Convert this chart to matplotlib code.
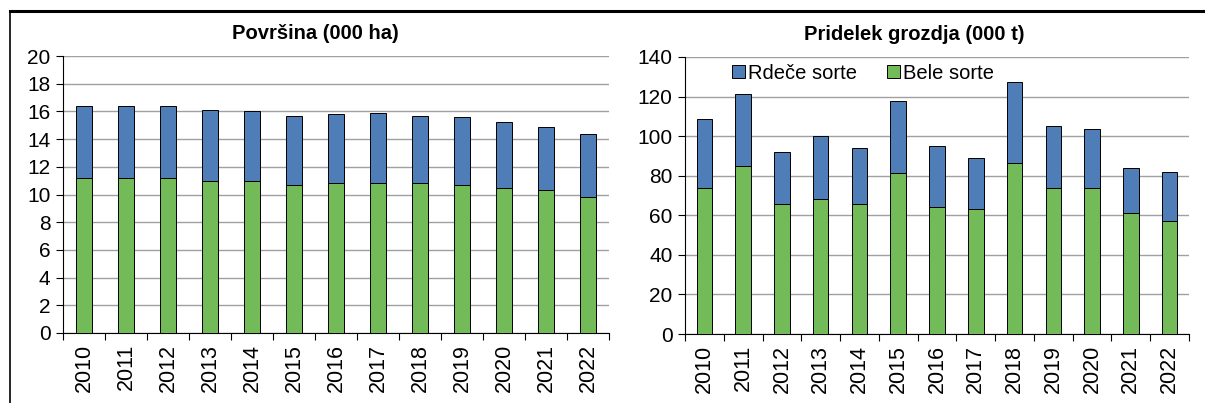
import numpy as np
import matplotlib.pyplot as plt
from matplotlib.lines import Line2D

plt.rcParams['font.family'] = ['Liberation Sans', 'DejaVu Sans']

# Data
years = ['2010', '2011', '2012', '2013', '2014', '2015', '2016',
         '2017', '2018', '2019', '2020', '2021', '2022']
area_total = [16.4, 16.4, 16.4, 16.1, 16.0, 15.7, 15.8, 15.9, 15.7, 15.6, 15.25, 14.85, 14.35]
area_white = [11.2, 11.2, 11.2, 11.0, 11.0, 10.7, 10.8, 10.8, 10.8, 10.7, 10.5, 10.3, 9.85]
yield_total = [108.6, 121.2, 91.9, 100.0, 94.1, 117.9, 94.9, 89.0, 127.3, 104.9, 103.5, 83.8, 81.8]
yield_white = [73.8, 84.7, 65.6, 68.1, 65.6, 81.2, 64.2, 63.4, 86.2, 73.8, 73.8, 61.4, 56.9]

area_red = [t - w for t, w in zip(area_total, area_white)]
yield_red = [t - w for t, w in zip(yield_total, yield_white)]

blue = '#4F7DB8'
green = '#73BA59'

fig = plt.figure(figsize=(12.05, 4.03), dpi=100)
ax1 = fig.add_axes([0.0523, 0.1737, 0.4531, 0.6873])
ax2 = fig.add_axes([0.5685, 0.1712, 0.4182, 0.6874])


def draw(ax, white, red, ymax, step, title, title_x):
    x = np.arange(len(years))
    ax.bar(x, white, width=0.4, color=green, edgecolor='black', linewidth=0.7,
           label='Bele sorte', zorder=3)
    ax.bar(x, red, width=0.4, bottom=white, color=blue, edgecolor='black',
           linewidth=0.7, label='Rdeče sorte', zorder=3)
    ax.set_xlim(-0.5, len(years) - 0.5)
    ax.set_ylim(0, ymax)
    ax.set_yticks(np.arange(0, ymax + 1, step))
    ax.set_xticks(x)
    ax.set_xticklabels(years, rotation=90, fontsize=15.5)
    ax.set_xticks(np.arange(-0.5, len(years), 1), minor=True)
    ax.tick_params(axis='x', which='major', length=0, pad=8)
    ax.tick_params(axis='x', which='minor', length=5, width=0.8, direction='out')
    ax.tick_params(axis='y', labelsize=15, length=5, width=0.8, direction='out', pad=4)
    ax.grid(axis='y', color='#a0a0a0', linewidth=1, zorder=0)
    ax.spines['top'].set_visible(False)
    ax.spines['right'].set_visible(False)
    ax.spines['left'].set_linewidth(0.8)
    ax.spines['bottom'].set_linewidth(0.8)
    ax.set_title(title, fontsize=14.5, fontweight='bold', pad=12, x=title_x)


draw(ax1, area_white, area_red, 20, 2, 'Površina (000 ha)', 0.4615)
draw(ax2, yield_white, yield_red, 140, 20, 'Pridelek grozdja (000 t)', 0.454)

h, l = ax2.get_legend_handles_labels()
ax2.legend(h[::-1], l[::-1], loc='upper left', bbox_to_anchor=(0.07, 1.02), ncol=2,
           frameon=False, fontsize=14.5, handlelength=0.65, handleheight=0.65,
           handletextpad=0.12, columnspacing=1.5, borderaxespad=0.2)

# outer frame lines
fig.add_artist(Line2D([0.0083, 1.0], [1 - 11 / 403, 1 - 11 / 403], color='black',
                      linewidth=2.2, transform=fig.transFigure))
fig.add_artist(Line2D([0.0083, 0.0083], [0.0, 1 - 11 / 403], color='black',
                      linewidth=1.2, transform=fig.transFigure))

fig.savefig('out.png', dpi=100)
